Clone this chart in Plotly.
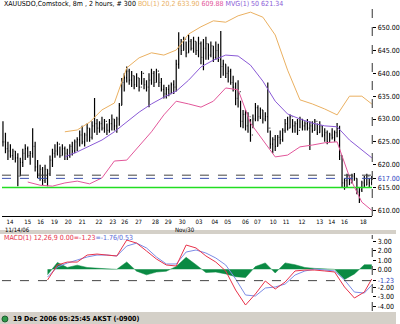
import plotly.graph_objects as go

# ---------------- data ----------------
HIGH = [629.5,627.0,625.0,624.5,623.5,623.0,622.5,621.5,623.5,624.5,
        624.0,623.0,628.0,625.0,621.0,620.0,619.5,620.0,619.0,622.0,
        623.5,624.5,625.0,624.0,624.5,624.0,623.5,624.5,625.0,625.5,
        626.0,627.5,628.5,627.0,629.0,628.0,629.5,634.6,630.0,629.5,
        630.5,630.0,629.0,630.0,631.0,630.0,630.5,633.5,639.0,640.0,
        641.5,641.0,640.5,639.5,640.0,639.0,640.5,639.0,638.5,640.0,
        641.0,640.5,641.0,640.0,639.0,637.5,637.0,637.5,638.0,638.5,
        643.0,649.0,647.5,648.0,647.0,648.5,647.5,648.0,647.0,648.0,
        647.0,647.5,648.0,646.5,647.0,646.0,647.0,646.5,649.3,643.0,
        642.0,641.5,641.0,639.5,638.0,638.5,634.0,632.0,632.0,631.5,
        630.0,631.0,633.5,633.0,632.5,632.0,631.5,638.0,627.5,626.0,
        626.5,626.5,627.5,628.0,630.0,630.5,631.0,630.0,629.5,630.0,
        630.5,630.0,629.5,630.0,629.5,629.5,630.0,629.0,629.5,628.5,
        628.0,627.5,627.0,628.0,627.5,629.1,628.5,622.0,617.0,618.0,
        617.5,618.0,618.2,617.0,615.0,616.5,617.5,618.0,617.0,617.5]
LOW = [624.0,622.5,621.0,621.5,621.0,620.5,615.3,617.5,619.5,621.0,
       621.5,620.0,621.5,618.5,617.0,616.5,615.5,616.0,615.3,617.5,
       619.5,621.5,622.0,621.5,622.0,621.0,621.0,621.5,622.0,622.5,
       623.0,624.0,624.5,624.0,625.0,625.0,625.5,627.0,626.5,627.0,
       627.5,627.0,626.5,627.0,627.5,627.5,627.0,628.5,633.0,636.0,
       638.0,637.5,637.0,636.5,637.0,636.0,637.5,636.5,636.0,632.6,
       637.5,637.0,638.0,637.0,636.0,634.5,634.5,635.0,635.5,635.5,
       636.0,641.0,644.0,645.0,643.5,644.5,645.0,644.5,644.0,643.5,
       642.0,640.7,643.0,643.0,643.5,642.5,643.0,642.5,639.0,639.5,
       639.0,638.0,637.5,636.0,633.0,632.5,628.2,628.0,627.5,627.0,
       625.0,628.0,629.5,629.5,630.0,629.0,629.5,627.0,623.5,622.5,
       623.0,624.0,624.5,625.0,627.0,627.5,628.0,627.0,627.0,626.5,
       628.0,627.5,627.5,627.5,623.2,627.0,627.5,626.5,627.0,626.0,
       625.0,624.5,625.0,625.5,625.0,626.0,621.0,615.0,614.5,615.0,
       615.5,616.0,616.5,613.5,611.6,614.0,615.0,615.5,615.0,615.5]
CLOSE = [625.0,623.5,623.0,622.0,623.0,621.5,617.5,620.5,622.5,623.5,
         622.0,622.5,624.0,619.5,618.0,619.0,616.5,619.0,618.0,621.0,
         622.5,623.0,624.5,622.0,623.5,622.5,622.0,624.0,623.0,625.0,
         625.5,626.5,625.0,626.5,628.0,626.0,628.5,629.0,628.0,629.0,
         628.0,629.5,627.5,629.0,630.0,628.5,630.0,633.0,638.0,639.0,
         640.5,638.5,639.5,637.5,639.0,637.0,640.0,637.5,637.0,638.5,
         640.0,638.0,640.5,638.0,636.5,635.5,636.5,635.5,637.5,637.0,
         642.0,646.0,645.0,647.5,644.5,647.0,645.5,647.0,645.0,646.5,
         643.5,645.5,646.5,644.0,646.0,643.5,645.0,643.0,641.5,642.0,
         640.0,640.5,638.0,637.0,634.5,636.0,629.5,631.0,628.5,630.5,
         626.5,630.0,632.5,630.5,632.0,630.0,630.5,628.0,624.5,625.5,
         624.0,626.0,625.5,627.5,629.0,628.0,630.5,628.5,629.0,627.5,
         630.0,628.5,629.0,628.0,628.5,627.5,629.5,627.0,628.5,626.5,
         627.0,625.0,626.5,626.0,627.0,628.0,622.0,616.0,616.5,617.5,
         616.0,617.5,617.0,614.0,614.5,616.0,615.5,617.5,616.0,616.5]
OPEN = [CLOSE[0]] + CLOSE[:-1]
BARS = list(range(len(CLOSE)))

IND_BARS = [10,15,20,25,30,35,40,45,50,55,60,65,70,75,80,85,90,95,100,105,
            110,115,120,125,130,135,140,145,149]
BOL_UP = [None,None,None,627.2,627.6,629.3,632.0,633.5,641.2,643.4,
          644.5,644.0,645.1,648.6,650.2,651.5,651.2,652.6,653.4,652.3,
          648.4,640.7,634.2,633.3,632.2,630.9,635.0,635.0,633.3]
BOL_LO = [616.2,615.5,615.3,616.0,616.4,615.8,617.1,620.8,621.0,624.1,
          627.2,630.9,633.9,633.3,632.6,633.9,636.8,636.4,629.1,625.4,
          621.7,622.1,623.9,624.3,624.8,625.0,617.3,611.8,610.0]
MVG50 = [None,None,None,621.7,622.8,624.1,625.4,627.2,629.4,631.5,
         633.3,634.8,636.1,638.5,641.4,642.9,644.0,643.8,641.8,638.3,
         633.9,631.1,630.0,629.1,628.5,628.3,625.4,623.2,621.5]

MACD_BARS = [18,22,26,30,34,38,42,46,50,54,58,62,66,70,74,78,82,86,90,94,
             98,102,106,110,114,118,122,126,130,134,138,142,146,149]
MACD = [-1.16,0.47,0.79,0.79,1.55,1.66,1.55,1.45,3.18,2.85,1.99,1.12,0.47,0.36,
        2.64,2.32,1.45,0.79,-0.18,-2.25,-3.88,-2.68,-1.27,-2.14,-1.38,-0.18,
        -0.08,-0.08,-0.18,-0.29,-1.92,-3.12,-2.47,-1.05]
SIGNAL = [-0.84,0.25,0.68,1.01,1.34,1.55,1.55,1.45,2.53,2.85,2.32,1.34,0.58,0.58,
          1.88,2.10,1.77,1.23,0.47,-1.05,-2.79,-2.90,-2.03,-1.92,-1.60,-0.62,
          -0.18,0.03,-0.08,-0.18,-1.16,-2.47,-2.58,-1.71]
HIST = [-0.6,0.75,0.2,0.45,0.2,0.1,0.05,0.0,0.8,-0.2,-0.6,-0.3,-0.2,0.3,1.3,0.5,
        -0.35,-0.3,-0.5,-0.8,-0.9,0.3,0.7,-0.4,0.7,0.5,0.2,0.1,0.05,0.0,
        -1.1,-0.5,0.5,0.5]

DAY_POS = [2.8,10,15.2,20.8,26.4,32,38.8,44.4,49.2,54.8,61.6,66.8,72.4,
           79.2,85.6,90.8,98,102.8,109.2,114.4,120.8,128,132.8,138,145.6]
DAY_LABELS = ["14","15","16","19","20","21","22","23","26","27","28","29","30",
              "03","04","05","06","07","10","11","12","13","14","16","18"]

PRICE_TICKS = [650,645,640,635,630,625,620,617,615,610]
MACD_TICKS = [3,2,1,0,-1.23,-2,-3,-4]
LEVEL_DASH = 617.7
LEVEL_BLUE = 617.0
LEVEL_GREEN = 615.0
MACD_LEVEL = -1.23

# ---------------- figure ----------------
W, H = 400, 324
def py(px):
    return 1 - px / H

FONT = "Liberation Sans Narrow, Arial Narrow, DejaVu Sans Condensed, sans-serif"
C_UP = "#eab061"
C_LO = "#e2579a"
C_MA = "#8a5ad6"
C_RED = "#e8324a"
C_BLUE = "#7d8ce6"
C_GREEN = "#0a8a43"
C_LEVEL = "#22dd22"

fig = go.Figure()
# horizontal green support level as a trace so it sits under the bars
fig.add_trace(go.Scatter(x=[BARS[0] - 0.4, BARS[-1] + 0.2], y=[LEVEL_GREEN, LEVEL_GREEN],
                         mode="lines", line=dict(color=C_LEVEL, width=1.5),
                         xaxis="x", yaxis="y"))
fig.add_trace(go.Ohlc(x=BARS, open=OPEN, high=HIGH, low=LOW, close=CLOSE,
                      increasing=dict(line=dict(color="black", width=1.2)),
                      decreasing=dict(line=dict(color="black", width=1.2)),
                      tickwidth=0.3, xaxis="x", yaxis="y"))
fig.add_trace(go.Scatter(x=IND_BARS, y=BOL_UP, mode="lines",
                         line=dict(color=C_UP, width=1), xaxis="x", yaxis="y"))
fig.add_trace(go.Scatter(x=IND_BARS, y=BOL_LO, mode="lines",
                         line=dict(color=C_LO, width=1), xaxis="x", yaxis="y"))
fig.add_trace(go.Scatter(x=IND_BARS, y=MVG50, mode="lines",
                         line=dict(color=C_MA, width=1), xaxis="x", yaxis="y"))

fig.add_trace(go.Scatter(x=MACD_BARS, y=HIST, mode="lines", fill="tozeroy",
                         fillcolor=C_GREEN, line=dict(color=C_GREEN, width=0.5),
                         xaxis="x2", yaxis="y2"))
fig.add_trace(go.Scatter(x=MACD_BARS, y=SIGNAL, mode="lines",
                         line=dict(color=C_BLUE, width=1), xaxis="x2", yaxis="y2"))
fig.add_trace(go.Scatter(x=MACD_BARS, y=MACD, mode="lines",
                         line=dict(color=C_RED, width=1), xaxis="x2", yaxis="y2"))

xdom = [2 / W, 376 / W]
xr = [-0.4, 149.2]
tickfont = dict(family=FONT, size=7, color="black")
dayfont = dict(family=FONT, size=6, color="black")

price_text = []
for t in PRICE_TICKS:
    s = f"{t:.2f}"
    price_text.append(f"<span style='color:#2a3fc0'>{s}</span>" if t == LEVEL_BLUE else s)
macd_text = []
for t in MACD_TICKS:
    s = f"{t:.2f}"
    macd_text.append(f"<span style='color:#2a3fc0'>{s}</span>" if t == MACD_LEVEL else s)

fig.update_layout(
    width=W, height=H, margin=dict(l=0, r=0, t=0, b=0),
    paper_bgcolor="white", plot_bgcolor="white", showlegend=False,
    xaxis=dict(domain=xdom, range=xr, anchor="y", tickvals=DAY_POS, ticktext=DAY_LABELS,
               showgrid=False, zeroline=False, showline=True, linecolor="black", linewidth=1,
               ticks="", tickfont=dayfont, rangeslider=dict(visible=False)),
    yaxis=dict(domain=[py(216), py(7)], range=[608.76, 654.53], anchor="x", side="right",
               tickvals=PRICE_TICKS, ticktext=price_text, ticks="outside", ticklen=3,
               tickcolor="black", showgrid=False, zeroline=False, showline=False,
               tickfont=tickfont),
    xaxis2=dict(domain=xdom, range=xr, anchor="y2", visible=False),
    yaxis2=dict(domain=[py(311), py(235)], range=[-4.53, 3.73], anchor="x2", side="right",
                tickvals=MACD_TICKS, ticktext=macd_text, ticks="outside", ticklen=3,
                tickcolor="black", showgrid=False, zeroline=False, showline=False,
                tickfont=tickfont),
)

shapes = [
    dict(type="line", xref="x domain", yref="y domain", x0=1, x1=1, y0=0, y1=1,
         line=dict(color="#333", width=1, dash="dash")),
    dict(type="line", xref="x2 domain", yref="y2 domain", x0=1, x1=1, y0=0, y1=1,
         line=dict(color="#333", width=1, dash="dash")),
    dict(type="line", xref="x domain", yref="y", x0=0, x1=1, y0=LEVEL_DASH, y1=LEVEL_DASH,
         line=dict(color="#444", width=1, dash="dash")),
    dict(type="line", xref="x domain", yref="y", x0=0, x1=1, y0=LEVEL_BLUE, y1=LEVEL_BLUE,
         line=dict(color="#3a4fb0", width=1, dash="dash")),
    dict(type="line", xref="x2 domain", yref="y2", x0=0, x1=1, y0=MACD_LEVEL, y1=MACD_LEVEL,
         line=dict(color="#444", width=1, dash="dash")),
    # separator strip and status bar
    dict(type="rect", xref="paper", yref="paper", x0=0, x1=1, y0=py(234), y1=py(230),
         fillcolor="#d4d0c8", line=dict(width=0), layer="below"),
    dict(type="rect", xref="paper", yref="paper", x0=0, x1=1, y0=0, y1=py(312),
         fillcolor="#d4d0c8", line=dict(width=0), layer="below"),
    dict(type="circle", xref="paper", yref="paper", x0=2 / W, x1=8 / W, y0=py(322), y1=py(316),
         fillcolor="#2f9a4a", line=dict(color="#1d5e2e", width=1)),
]
fig.update_layout(shapes=shapes)

title_html = ("XAUUSDO,Comstock, 8m , 2 hours, # 300 "
              f"<span style='color:{C_UP}'>BOL(1) 20,2 633.90 </span>"
              f"<span style='color:{C_LO}'>609.88 </span>"
              f"<span style='color:{C_MA}'>MVG(1) 50 621.34</span>")
macd_html = (f"<span style='color:{C_RED}'>MACD(1) 12,26,9 0.00=-1.23</span>"
             f"<span style='color:#5a6ad8'>=-1.76/0.53</span>")
annos = [
    dict(x=2 / W, y=py(4), xref="paper", yref="paper", text=title_html, showarrow=False,
         xanchor="left", yanchor="middle", font=dict(family=FONT, size=7, color="black")),
    dict(x=2 / W, y=py(238), xref="paper", yref="paper", text=macd_html, showarrow=False,
         xanchor="left", yanchor="middle", font=dict(family=FONT, size=7, color="black")),
    dict(x=3 / W, y=py(229), xref="paper", yref="paper", text="11/14/06", showarrow=False,
         xanchor="left", yanchor="middle", font=dayfont),
    dict(x=187 / W, y=py(229), xref="paper", yref="paper", text="Nov/30", showarrow=False,
         xanchor="center", yanchor="middle", font=dayfont),
    dict(x=11 / W, y=py(319), xref="paper", yref="paper",
         text="<b>19 Dec 2006 05:25:45 AKST (-0900)</b>", showarrow=False,
         xanchor="left", yanchor="middle", font=dict(family=FONT, size=7, color="black")),
]
fig.update_layout(annotations=annos)

fig.write_html("out.html")
